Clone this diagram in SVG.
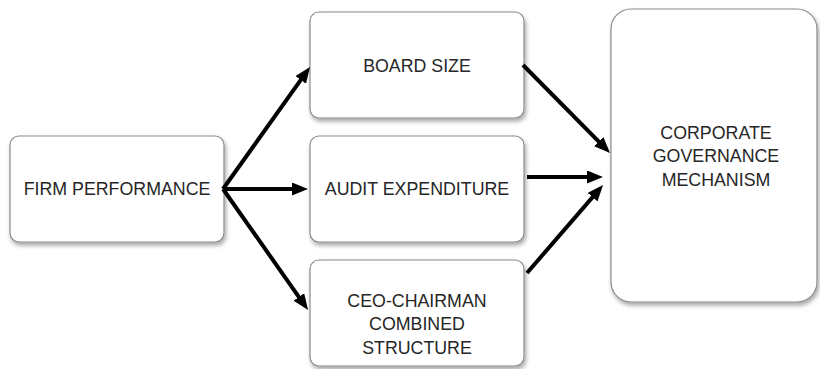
<svg xmlns="http://www.w3.org/2000/svg" width="820" height="369" viewBox="0 0 820 369">
<defs>
<style>
.box{fill:#fff;stroke:#8a8a8a;stroke-width:1.2;filter:url(#sh)}
.t{font-family:"Liberation Sans",Arial,sans-serif;font-size:17.8px;fill:#262626;text-anchor:middle}
.c{stroke:#000;stroke-width:4;fill:none;marker-end:url(#ah)}
</style>
<filter id="sh" x="-10%" y="-10%" width="130%" height="130%">
<feDropShadow dx="1.5" dy="3" stdDeviation="2" flood-color="#000" flood-opacity="0.35"/>
</filter>
<marker id="ah" markerUnits="userSpaceOnUse" markerWidth="16" markerHeight="13" refX="6" refY="6.5" orient="auto">
<path d="M0,0 L16,6.5 L0,13 z" fill="#000"/>
</marker>
</defs>
<g id="firm-performance">
<rect class="box" x="10" y="136" width="214" height="106" rx="9"/>
<text class="t" x="117" y="195">FIRM PERFORMANCE</text>
</g>
<g id="board-size">
<rect class="box" x="310" y="12" width="214" height="106" rx="9"/>
<text class="t" x="417" y="71.5">BOARD SIZE</text>
</g>
<g id="audit-expenditure">
<rect class="box" x="310" y="136" width="214" height="106" rx="9"/>
<text class="t" x="417" y="195">AUDIT EXPENDITURE</text>
</g>
<g id="ceo-chairman">
<rect class="box" x="310" y="260" width="214" height="106" rx="9"/>
<text class="t" x="417" y="306.5">CEO-CHAIRMAN</text>
<text class="t" x="417" y="330">COMBINED</text>
<text class="t" x="417" y="353.5">STRUCTURE</text>
</g>
<g id="corporate-governance">
<rect class="box" x="611" y="9" width="206" height="293" rx="20"/>
<text class="t" x="716" y="138.5">CORPORATE</text>
<text class="t" x="716" y="162">GOVERNANCE</text>
<text class="t" x="716" y="185.5">MECHANISM</text>
</g>
<g id="connectors">
<line class="c" x1="223" y1="189" x2="304.2" y2="75.1"/>
<line class="c" x1="223" y1="189" x2="298" y2="189"/>
<line class="c" x1="223" y1="189" x2="302.3" y2="301.8"/>
<line class="c" x1="523" y1="65" x2="603" y2="145.9"/>
<line class="c" x1="527" y1="177" x2="593" y2="177"/>
<line class="c" x1="527" y1="273" x2="596.5" y2="192.6"/>
</g>
</svg>
